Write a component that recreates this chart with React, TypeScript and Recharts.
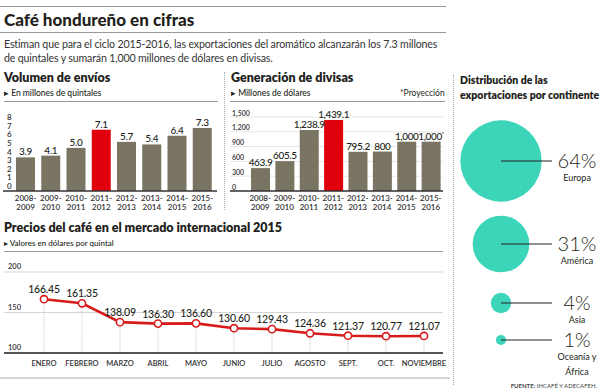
import React from "react";
import {
  BarChart,
  Bar,
  Cell,
  XAxis,
  YAxis,
  ZAxis,
  CartesianGrid,
  LabelList,
  ComposedChart,
  Line,
  ScatterChart,
  Scatter,
} from "recharts";

// --- data ---
const seasons = ["2008-2009", "2009-2010", "2010-2011", "2011-2012", "2012-2013", "2013-2014", "2014-2015", "2015-2016"];
const volumen = [3.9, 4.1, 5.0, 7.1, 5.7, 5.4, 6.4, 7.3];
const divisas = [463.9, 605.5, 1238.9, 1439.1, 795.2, 800, 1000, 1000];
const highlightSeason = "2011-2012";
const projectedSeason = "2015-2016";
const volTicks = [0, 1, 2, 3, 4, 5, 6, 7, 8];
const divTicks = [0, 300, 600, 900, 1200, 1500];

const months = ["ENERO", "FEBRERO", "MARZO", "ABRIL", "MAYO", "JUNIO", "JULIO", "AGOSTO", "SEPT.", "OCT.", "NOVIEMBRE"];
const precios = [166.45, 161.35, 138.09, 136.3, 136.6, 130.6, 129.43, 124.36, 121.37, 120.77, 121.07];
const priceTicks = [100, 150, 200];

const continents = ["Europa", "América", "Asia", "Oceanía y África"];
const shares = [64, 31, 4, 1];

const volData = seasons.map((s, i) => ({ season: s, value: volumen[i] }));
const divData = seasons.map((s, i) => ({ season: s, value: divisas[i] }));
const priceData = months.map((m, i) => ({ month: m, price: precios[i] }));

const GRAY = "#7a7563";
const RED = "#e0000b";
const LINE_RED = "#d81c1c";
const TEAL = "#3dd5b9";
const TEXT = "#231f20";
const FONT = "Lato, 'Open Sans', sans-serif";

// two line season ticks: "2008-" / "2009"
function SeasonTick({ x, y, payload }: any) {
  const [a, b] = String(payload.value).split("-");
  return (
    <text x={x} textAnchor="middle" fontSize={8} fontWeight={600} fill="#333" fontFamily={FONT}>
      <tspan x={x} y={y + 9.5}>{a}-</tspan>
      <tspan x={x} y={y + 18.5}>{b}</tspan>
    </text>
  );
}

const leftTick = (xPos: number, size: number, fmt: (v: number) => string, dy: number) =>
  function Tick({ y, payload }: any) {
    return (
      <text x={xPos} y={y + dy} fontSize={size} fill="#333" fontFamily={FONT} fontWeight={600}>
        {fmt(payload.value)}
      </text>
    );
  };

function BarValue(fmt: (v: number) => string, starIdx = -1) {
  return function Lbl({ x, y, width, value, index }: any) {
    return (
      <text
        x={x + width / 2}
        y={y - 2}
        textAnchor="middle"
        fontSize={10}
        letterSpacing={-0.4}
        fill={TEXT}
        fontFamily={FONT}
        fontWeight={500}
      >
        {fmt(value)}
        {index === starIdx && (
          <tspan fontSize={6} dy={-4}>*</tspan>
        )}
      </text>
    );
  };
}

function DottedDrop({ x, y, width, height }: any) {
  const cx = x + width / 2;
  return <line x1={cx} x2={cx} y1={y} y2={y + height} stroke="#aaa" strokeWidth={0.8} strokeDasharray="1 1.5" />;
}

function PriceDot({ cx, cy }: any) {
  return <circle cx={cx} cy={cy} r={3.6} fill="#fff" stroke={LINE_RED} strokeWidth={1.6} />;
}

function PriceLabel({ x, y, value }: any) {
  return (
    <text x={x} y={y - 6} textAnchor="middle" fontSize={10.5} letterSpacing={-0.2} fill={TEXT} fontFamily={FONT} fontWeight={500}>
      {Number(value).toFixed(2)}
    </text>
  );
}

function MonthTick({ x, y, payload }: any) {
  return (
    <text x={x} y={y + 12.5} textAnchor="middle" fontSize={7.5} fontWeight={600} fill="#333" fontFamily={FONT}>
      {payload.value}
    </text>
  );
}

function Bubble(props: any) {
  const { cx, cy, width, size, payload } = props;
  const r = width ? width / 2 : Math.sqrt(size / Math.PI);
  const lines = String(payload.name).replace(" y ", " y|").split("|");
  return (
    <g fontFamily={FONT}>
      <circle cx={cx} cy={cy} r={r} fill={TEAL} />
      <line x1={cx} x2={cx + 51} y1={cy} y2={cy} stroke="#222" strokeWidth={1} />
      <text x={cx + 76} y={cy + 7} textAnchor="middle" fontSize={20} fontWeight={300} fill={TEXT}>
        {payload.z}%
      </text>
      {lines.map((t, i) => (
        <text key={i} x={cx + 76} y={cy + 20 + i * 15} textAnchor="middle" fontSize={9} fill={TEXT}>
          {t}
        </text>
      ))}
    </g>
  );
}

// bubble row layout
const bubbleRows = [
  { top: 116, h: 90 },
  { top: 214, h: 60 },
  { top: 283, h: 40 },
  { top: 320, h: 40 },
];

const abs = (s: React.CSSProperties): React.CSSProperties => ({ position: "absolute", ...s });

export default function App() {
  const volTickC = leftTick(7, 8, (v) => String(v), -2);
  const divTickC = leftTick(12, 7, (v) => v.toLocaleString("en-US"), -1.5);
  const priceTickC = leftTick(8, 7.5, (v) => String(v), -3);

  return (
    <div style={abs({ left: 0, top: 0, width: 600, height: 392, background: "#fff", overflow: "hidden", fontFamily: FONT, color: TEXT })}>
      <style>{`.recharts-surface{overflow:visible}`}</style>

      {/* header */}
      <div style={abs({ left: 0, top: 6, width: 446, height: 1, background: "#999" })} />
      <div style={abs({ left: 4, top: 9, fontSize: 17, fontWeight: 900, lineHeight: "22px" })}>Café hondureño en cifras</div>
      <div style={abs({ left: 0, top: 32, width: 446, height: 1, background: "#999" })} />
      <div style={abs({ left: 4, top: 38, fontSize: 10.6, letterSpacing: -0.15, lineHeight: "13.5px", color: "#333" })}>
        Estiman que para el ciclo 2015-2016, las exportaciones del aromático alcanzarán los 7.3 millones
        <br />
        de quintales y sumarán 1,000 millones de dólares en divisas.
      </div>

      {/* separators */}
      <div style={abs({ left: 224, top: 72, height: 138, borderLeft: "1px dotted #aaa" })} />
      <div style={abs({ left: 453, top: 75, height: 310, borderLeft: "1px dotted #aaa" })} />

      {/* Volumen de envíos */}
      <div style={abs({ left: 4, top: 70, fontSize: 12.5, fontWeight: 800, lineHeight: "16px" })}>Volumen de envíos</div>
      <div style={abs({ left: 4, top: 88, fontSize: 8.5, lineHeight: "11px", fontWeight: 500 })}>▸ En millones de quintales</div>
      <div style={abs({ left: 4, top: 101, width: 214, height: 1, background: "#999" })} />
      <div style={abs({ left: 0, top: 100 })}>
        <BarChart width={220} height={115} data={volData} margin={{ top: 22, right: 3, left: 3, bottom: 0 }} barSize={19}>
          <XAxis
            dataKey="season"
            height={24}
            padding={{ left: 10, right: 2 }}
            tick={<SeasonTick />}
            tickLine={false}
            tickSize={0}
            tickMargin={0}
            axisLine={{ stroke: "#333", strokeWidth: 1.5 }}
            interval={0}
          />
          <YAxis mirror domain={[0, 8]} ticks={volTicks} interval={0} axisLine={false} tickLine={false} tick={volTickC} />
          <Bar dataKey="value" isAnimationActive={false}>
            {volData.map((d) => (
              <Cell key={d.season} fill={d.season === highlightSeason ? RED : GRAY} />
            ))}
            <LabelList dataKey="value" content={BarValue((v) => v.toFixed(1))} />
          </Bar>
        </BarChart>
      </div>

      {/* Generación de divisas */}
      <div style={abs({ left: 231, top: 70, fontSize: 12.5, fontWeight: 800, lineHeight: "16px" })}>Generación de divisas</div>
      <div style={abs({ left: 231, top: 88, fontSize: 8.5, lineHeight: "11px", fontWeight: 500 })}>▸ Millones de dólares</div>
      <div style={abs({ left: 400, top: 88, fontSize: 8.5, lineHeight: "11px" })}>*Proyección</div>
      <div style={abs({ left: 230, top: 101, width: 215, height: 1, background: "#999" })} />
      <div style={abs({ left: 220, top: 100 })}>
        <BarChart width={230} height={115} data={divData} margin={{ top: 17, right: 7, left: 10, bottom: 0 }} barSize={19}>
          <CartesianGrid vertical={false} stroke="#e6e6e6" />
          <XAxis
            dataKey="season"
            height={24}
            padding={{ left: 18, right: 0 }}
            tick={<SeasonTick />}
            tickLine={false}
            tickSize={0}
            tickMargin={0}
            axisLine={{ stroke: "#333", strokeWidth: 1.5 }}
            interval={0}
          />
          <YAxis mirror domain={[0, 1500]} ticks={divTicks} interval={0} axisLine={false} tickLine={false} tick={divTickC} />
          <Bar dataKey="value" isAnimationActive={false}>
            {divData.map((d) => (
              <Cell key={d.season} fill={d.season === highlightSeason ? RED : GRAY} />
            ))}
            <LabelList
              dataKey="value"
              content={BarValue((v) => v.toLocaleString("en-US"), seasons.indexOf(projectedSeason))}
            />
          </Bar>
        </BarChart>
      </div>

      {/* Precios */}
      <div style={abs({ left: 4, top: 220, fontSize: 12.5, fontWeight: 800, lineHeight: "16px" })}>
        Precios del café en el mercado internacional 2015
      </div>
      <div style={abs({ left: 4, top: 238, fontSize: 8, lineHeight: "11px", fontWeight: 500 })}>▸ Valores en dólares por quintal</div>
      <div style={abs({ left: 4, top: 251, width: 439, height: 1, background: "#999" })} />
      <div style={abs({ left: 0, top: 255 })}>
        <ComposedChart width={450} height={115} data={priceData} margin={{ top: 17, right: 7, left: 4, bottom: 0 }}>
          <CartesianGrid vertical={false} stroke="#d5d5d5" />
          <XAxis
            dataKey="month"
            height={17}
            padding={{ left: 21, right: 0 }}
            tick={<MonthTick />}
            tickLine={false}
            tickSize={0}
            tickMargin={0}
            axisLine={{ stroke: "#222", strokeWidth: 1.6 }}
            interval={0}
          />
          <YAxis mirror domain={[100, 200]} ticks={priceTicks} interval={0} axisLine={false} tickLine={false} tick={priceTickC} />
          <Bar dataKey="price" barSize={2} shape={<DottedDrop />} isAnimationActive={false} />
          <Line
            dataKey="price"
            stroke={LINE_RED}
            strokeWidth={2.6}
            dot={<PriceDot />}
            activeDot={false}
            isAnimationActive={false}
          >
            <LabelList dataKey="price" content={<PriceLabel />} />
          </Line>
        </ComposedChart>
      </div>

      {/* Distribución */}
      <div style={abs({ left: 460, top: 73, fontSize: 10.5, fontWeight: 800, lineHeight: "15px" })}>
        Distribución de las
        <br />
        exportaciones por continente
      </div>
      {continents.map((c, i) => (
        <div key={c} style={abs({ left: 455, top: bubbleRows[i].top, width: 145, height: bubbleRows[i].h })}>
          <ScatterChart width={145} height={bubbleRows[i].h} margin={{ top: 0, right: 0, left: 0, bottom: 0 }}>
            <XAxis type="number" dataKey="x" domain={[0, 1]} padding={{ left: 46, right: 0 }} hide />
            <YAxis type="number" dataKey="y" domain={[-1, 1]} hide />
            <ZAxis type="number" dataKey="z" domain={[0, 64]} range={[0, 5204]} />
            <Scatter data={[{ x: 0, y: 0, z: shares[i], name: c }]} shape={<Bubble />} isAnimationActive={false} />
          </ScatterChart>
        </div>
      ))}

      {/* footer */}
      <div style={abs({ left: 0, top: 377, width: 450, height: 2, background: "#d6d6d6" })} />
      <div style={abs({ right: 3, top: 382, fontSize: 6, lineHeight: "8px", color: "#444" })}>
        <b>FUENTE:</b> IHCAFÉ Y ADECAFEH.
      </div>
    </div>
  );
}
